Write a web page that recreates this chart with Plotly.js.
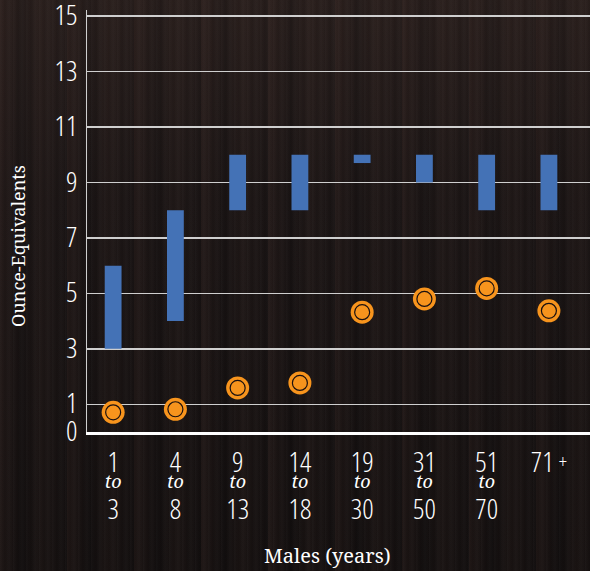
<!DOCTYPE html>
<html>
<head>
<meta charset="utf-8">
<script src="https://cdn.plot.ly/plotly-3.0.1.min.js"></script>
<style>
html,body{margin:0;padding:0;width:590px;height:571px;overflow:hidden;}
body{
  background-color:#181212;
  background-image:
    repeating-linear-gradient(90deg, rgba(255,255,255,0.025) 0px, rgba(255,255,255,0.0) 3px, rgba(0,0,0,0.08) 5px, rgba(255,255,255,0.02) 9px, rgba(0,0,0,0.0) 13px),
    repeating-linear-gradient(90deg, rgba(60,40,35,0.25) 0px, rgba(0,0,0,0.15) 23px, rgba(50,35,30,0.2) 41px, rgba(0,0,0,0.1) 67px),
    linear-gradient(180deg, #2a201e 0%, #1c1616 35%, #141010 100%);
}
#chart{width:590px;height:571px;}
</style>
</head>
<body>
<div id="chart"></div>
<script>
const ageFrom = ["1","4","9","14","19","31","51","71"];
const ageTo   = ["3","8","13","18","30","50","70",""];
const rangeLow  = [3, 4, 8, 8, 9.7, 9, 8, 8];
const rangeHigh = [6, 8, 10, 10, 10, 10, 10, 10];
const actual    = [0.71, 0.82, 1.59, 1.77, 4.32, 4.8, 5.18, 4.37];
const yTicks = [0, 1, 3, 5, 7, 9, 11, 13, 15];

const xIdx = ageFrom.map((_, i) => i);
const numFont = "Open Sans, sans-serif";
const serifFont = "Noto Serif, DejaVu Serif, serif";
const cond = "font-stretch:condensed;font-weight:300";

const tickText = ageFrom.map((f, i) => {
  if (ageTo[i] === "") {
    return `<span style="${cond};font-size:28px">${f} </span><span style="${cond};font-size:20px;baseline-shift:3px">+</span>`;
  }
  return `<span style="${cond};font-size:28px">${f}</span><br><span style="font-family:${serifFont};font-style:italic;font-weight:400;font-size:18px;baseline-shift:8px">to</span><br><span style="${cond};font-size:28px">${ageTo[i]}</span>`;
});
const yTickText = yTicks.map(v => `<span style="${cond};font-size:28px">${v}</span>`);

const bars = {
  type: "bar",
  x: xIdx,
  y: rangeHigh.map((h, i) => h - rangeLow[i]),
  base: rangeLow,
  width: 0.27,
  marker: {color: "#4472b6", line: {width: 0}},
  hoverinfo: "skip"
};
const dots = {
  type: "scatter",
  mode: "markers",
  x: xIdx,
  y: actual,
  marker: {size: 23, color: "#f7941d", line: {width: 0}},
  hoverinfo: "skip"
};
const rings = {
  type: "scatter",
  mode: "markers",
  x: xIdx,
  y: actual,
  marker: {size: 15, symbol: "circle-open", color: "#1a1010", line: {width: 1.2, color: "#1a1010"}},
  hoverinfo: "skip"
};

const layout = {
  width: 590, height: 571,
  margin: {l: 87, r: 0, t: 10, b: 139},
  paper_bgcolor: "rgba(0,0,0,0)",
  plot_bgcolor: "rgba(0,0,0,0)",
  showlegend: false,
  xaxis: {
    range: [-0.42, 7.66],
    tickvals: xIdx,
    ticktext: tickText,
    showgrid: false,
    zeroline: false,
    showline: true,
    linecolor: "#ffffff",
    linewidth: 2.5,
    ticks: "",
    ticklabelstandoff: 16,
    ticklabeloverflow: "allow",
    tickfont: {family: numFont, size: 18, color: "#ffffff"},
    fixedrange: true
  },
  yaxis: {
    range: [0, 15.22],
    tickvals: yTicks,
    ticktext: yTickText,
    showgrid: true,
    gridcolor: "#cfcfcf",
    gridwidth: 1.5,
    zeroline: false,
    showline: true,
    linecolor: "#cfcfcf",
    linewidth: 1.5,
    ticks: "",
    ticklabelstandoff: 3,
    ticklabeloverflow: "allow",
    tickfont: {family: numFont, size: 26, color: "#ffffff"},
    fixedrange: true
  },
  annotations: [
    {text: "Males (years)", xref: "paper", yref: "paper", x: (327-87)/503, y: -(555-432)/422,
     xanchor: "center", yanchor: "middle", showarrow: false,
     font: {family: serifFont, size: 20, color: "#ffffff"}},
    {text: "Ounce-Equivalents", xref: "paper", yref: "paper", x: -(87-18)/503, y: (432-246)/422,
     xanchor: "center", yanchor: "middle", showarrow: false, textangle: -90,
     font: {family: serifFont, size: 18, color: "#ffffff"}}
  ]
};

Plotly.newPlot("chart", [bars, dots, rings], layout, {staticPlot: true, displayModeBar: false});
</script>
</body>
</html>
